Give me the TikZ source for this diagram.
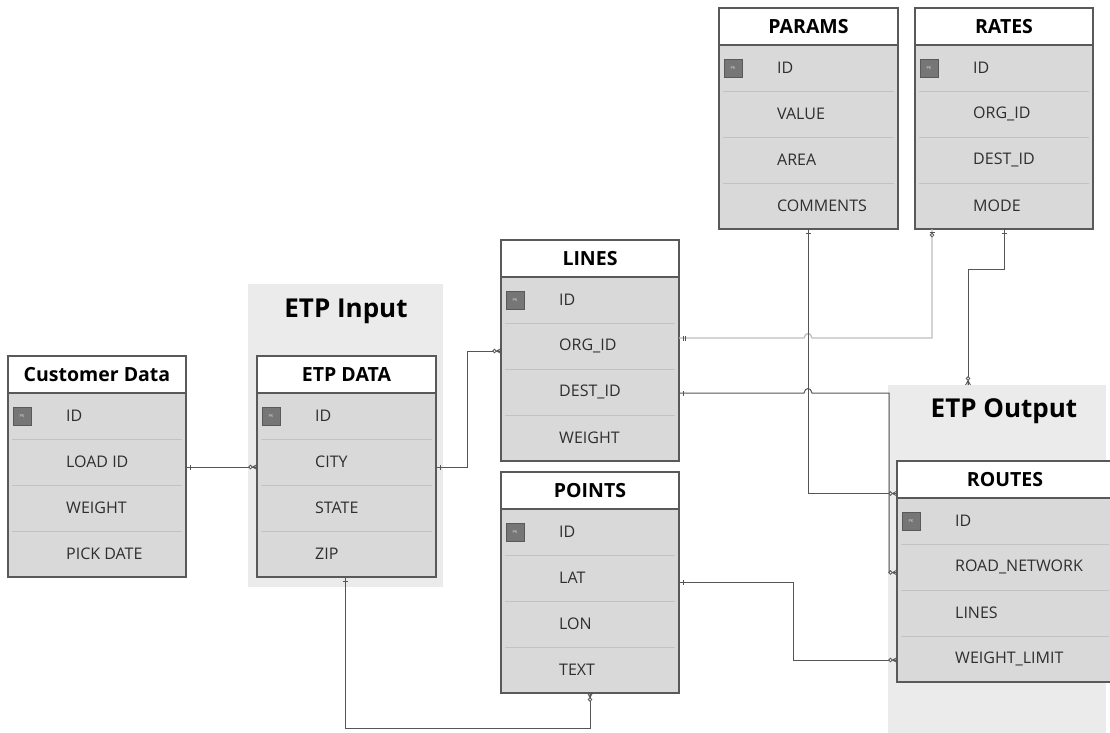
\documentclass[tikz,border=0pt]{standalone}
\usepackage{fontspec}
\setmainfont{Open Sans}
\usetikzlibrary{calc}
\definecolor{border}{HTML}{595959}
\definecolor{bodyfill}{HTML}{D9D9D9}
\definecolor{sepc}{HTML}{C2C2C2}
\definecolor{grp}{HTML}{EBEBEB}
\definecolor{conc}{HTML}{555555}
\definecolor{lightc}{HTML}{BDBDBD}
\definecolor{pkc}{HTML}{767676}
\definecolor{txt}{HTML}{2E2E2E}
\tikzset{
 tbody/.style={draw=border, line width=1.3pt, fill=bodyfill, inner sep=0pt, outer sep=0pt, minimum height=221pt},
 thead/.style={draw=border, line width=1.3pt, fill=white, inner sep=0pt, outer sep=0pt, minimum height=37pt, font=\fontsize{19.5}{22}\selectfont\bfseries},
 trow/.style={inner sep=0pt, outer sep=0pt, minimum height=46pt},
 ftext/.style={inner sep=0pt, anchor=west, font=\fontsize{16}{19}\selectfont, text=txt},
 sepline/.style={draw=sepc, line width=0.9pt},
 pkbox/.style={draw=border, fill=pkc, minimum width=18pt, minimum height=18pt, inner sep=0pt, font=\fontsize{4}{4}\selectfont, text=white!75!gray},
 grpbox/.style={fill=grp, inner sep=0pt, outer sep=0pt, anchor=north west},
 gtitle/.style={font=\fontsize{26}{30}\selectfont\bfseries, anchor=base, inner sep=0pt},
 conn/.style={draw=conc, line width=1pt},
 connlight/.style={draw=lightc, line width=1.3pt},
 mk/.style={draw=conc, line width=0.8pt},
 crowmany/.pic={\draw[mk] (-4.5,0) -- (0,2.5) (-4.5,0) -- (0,-2.5) (-4.5,0) -- (0,0);
                \draw[mk, fill=white] (-6.5,0) circle (1.8);},
 crowone/.pic={\draw[mk] (-4,-2.5) -- (-4,2.5);},
 crowtwo/.pic={\draw[mk] (-4,-2.5) -- (-4,2.5) (-6,-2.5) -- (-6,2.5);},
 crowzero/.pic={\draw[mk] (-3,-2.5) -- (-3,2.5); \draw[mk, fill=white] (-6,0) circle (1.8);},
}
\newcommand{\erTable}[8]{%
 \node[tbody, minimum width=#3, anchor=north west] (#1) at (#2) {};
 \node[thead, minimum width=#3, anchor=north west] (#1-h) at (#1.north west) {#4};
 \node[trow, minimum width=#3, anchor=north west] (#1-1) at (#1-h.south west) {};
 \node[trow, minimum width=#3, anchor=north west] (#1-2) at (#1-1.south west) {};
 \node[trow, minimum width=#3, anchor=north west] (#1-3) at (#1-2.south west) {};
 \node[trow, minimum width=#3, anchor=north west] (#1-4) at (#1-3.south west) {};
 \draw[sepline] ([xshift=4pt]#1-1.south west) -- ([xshift=-4pt]#1-1.south east);
 \draw[sepline] ([xshift=4pt]#1-2.south west) -- ([xshift=-4pt]#1-2.south east);
 \draw[sepline] ([xshift=4pt]#1-3.south west) -- ([xshift=-4pt]#1-3.south east);
 \node[pkbox] (#1-pk) at ([xshift=14pt]#1-1.west) {PK};
 \node[ftext] (#1-t1) at ([xshift=58pt]#1-1.west) {#5};
 \node[ftext] (#1-t2) at ([xshift=58pt]#1-2.west) {#6};
 \node[ftext] (#1-t3) at ([xshift=58pt]#1-3.west) {#7};
 \node[ftext] (#1-t4) at ([xshift=58pt]#1-4.west) {#8};
}
\begin{document}
\begin{tikzpicture}[x=1pt, y=-1pt]
\useasboundingbox (0,0) rectangle (1110,732);
\clip (0,0) rectangle (1110,732);
% groups
\node[grpbox, minimum width=218pt, minimum height=350pt] (etpout) at (888,385) {};
\node[grpbox, minimum width=195pt, minimum height=303pt] (etpin) at (248,284) {};
\node[gtitle] (etpin-title) at (346,317) {ETP Input};
\node[gtitle] (etpout-title) at (1004,417) {ETP Output};
% tables
\erTable{cd}{8,356}{178pt}{Customer Data}{ID}{LOAD ID}{WEIGHT}{PICK DATE}
\erTable{etp}{257,356}{179pt}{ETP DATA}{ID}{CITY}{STATE}{ZIP}
\erTable{lines}{501,240}{178pt}{LINES}{ID}{ORG\_ID}{DEST\_ID}{WEIGHT}
\erTable{points}{501,472}{178pt}{POINTS}{ID}{LAT}{LON}{TEXT}
\erTable{params}{719,8}{179pt}{PARAMS}{ID}{VALUE}{AREA}{COMMENTS}
\erTable{rates}{915,8}{178pt}{RATES}{ID}{ORG\_ID}{DEST\_ID}{MODE}
\erTable{routes}{897,461}{216pt}{ROUTES}{ID}{ROAD\_NETWORK}{LINES}{WEIGHT\_LIMIT}
% connectors
\draw[conn] ([yshift=-5pt]cd-2.east) -- ([yshift=-5pt]etp-2.west);
\draw[conn] ([yshift=-5pt]etp-2.east) -- ++(31,0) |- ([yshift=-5pt]lines-2.west);
\draw[connlight] ([yshift=8pt]lines-2.east) -- (804,338) .. controls +(1,-6) and +(-1,-6) .. (812,338) -| ([xshift=17pt]rates.south west);
\draw[conn] ([yshift=-1pt]lines-3.east) -- (804,393) .. controls +(1,-6) and +(-1,-6) .. (812,393) -- (889,393) |- ([yshift=-5.5pt]routes-2.west);
\draw[conn] ([xshift=89pt]params.south west) |- ([yshift=-14pt]routes-h.west);
\draw[conn] ([xshift=89pt]rates.south west) -- ++(0,40) -| ([xshift=80pt]etpout.north west);
\draw[conn] ([yshift=-4pt]points-2.east) -- ++(114,0) |- ([yshift=-1pt]routes-4.west);
\draw[conn] ([xshift=88pt]etp.south west) -- ++(0,151) -| ([xshift=89pt]points.south west);
% markers
\pic[rotate=180] at ([yshift=-5pt]cd-2.east) {crowone};
\pic at ([yshift=-5pt]etp-2.west) {crowmany};
\pic[rotate=180] at ([yshift=-5pt]etp-2.east) {crowone};
\pic at ([yshift=-5pt]lines-2.west) {crowmany};
\pic[rotate=180] at ([yshift=8pt]lines-2.east) {crowtwo};
\pic[rotate=90] at ([xshift=17pt]rates.south west) {crowzero};
\pic[rotate=180] at ([yshift=-1pt]lines-3.east) {crowone};
\pic at ([yshift=-5.5pt]routes-2.west) {crowmany};
\pic[rotate=90] at ([xshift=89pt]params.south west) {crowone};
\pic at ([yshift=-14pt]routes-h.west) {crowmany};
\pic[rotate=90] at ([xshift=89pt]rates.south west) {crowone};
\pic[rotate=-90] at ([xshift=80pt]etpout.north west) {crowmany};
\pic[rotate=180] at ([yshift=-4pt]points-2.east) {crowone};
\pic at ([yshift=-1pt]routes-4.west) {crowmany};
\pic[rotate=90] at ([xshift=88pt]etp.south west) {crowone};
\pic[rotate=90] at ([xshift=89pt]points.south west) {crowmany};
\end{tikzpicture}
\end{document}
